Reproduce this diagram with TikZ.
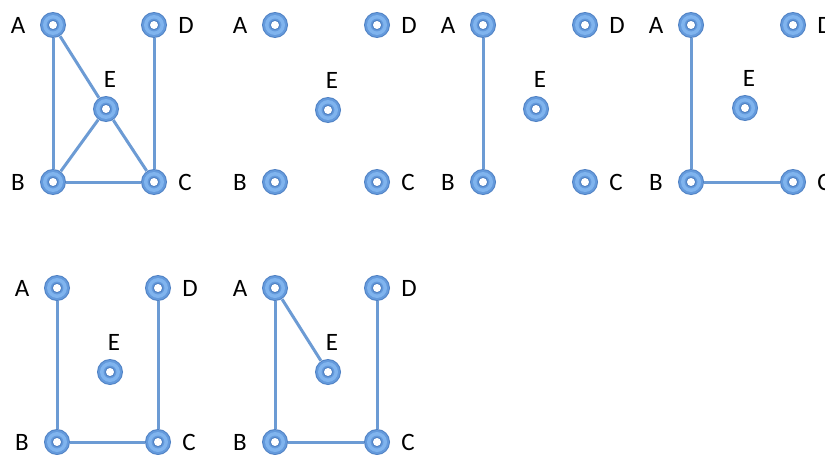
\documentclass[tikz,border=0pt]{standalone}
\usepackage{fontspec}
\setmainfont{Carlito}
\definecolor{ringdark}{RGB}{80,130,196}
\definecolor{ringmid}{RGB}{100,154,220}
\definecolor{ringlight}{RGB}{128,180,238}
\definecolor{edgeblue}{RGB}{108,155,212}
\tikzset{
  vtx/.style={circle, minimum size=26pt, inner sep=0pt, fill=ringdark,
    path picture={
      \coordinate (pc) at (path picture bounding box.center);
      \fill[ringmid] (pc) circle (12pt);
      \fill[ringlight] (pc) circle (10pt);
      \fill[ringmid] (pc) circle (6.4pt);
      \fill[ringdark] (pc) circle (5.2pt);
      \fill[white] (pc) circle (4pt);
    }},
  lab/.style={font=\fontsize{25}{27}\selectfont, inner sep=0pt},
  edge/.style={draw=edgeblue, line width=3pt}
}
\newcommand{\panel}[8]{%
  \node[vtx] (#1A) at (#2,#4) {};
  \node[vtx] (#1D) at (#3,#4) {};
  \node[vtx] (#1E) at (#5,#6) {};
  \node[vtx] (#1B) at (#2,#7) {};
  \node[vtx] (#1C) at (#3,#7) {};
  \node[lab] (#1lA) at ([xshift=-35pt]#1A.center) {A};
  \node[lab] (#1lD) at ([xshift=32pt]#1D.center) {D};
  \node[lab] (#1lE) at ([xshift=4pt,yshift=30pt]#1E.center) {E};
  \node[lab] (#1lB) at ([xshift=-35pt]#1B.center) {B};
  \node[lab] (#1lC) at ([xshift=31pt]#1C.center) {C};
  #8
}
\begin{document}
\begin{tikzpicture}[x=1pt,y=-1pt]
\useasboundingbox (0,0) rectangle (825,455);
\panel{p}{53}{154}{25}{106}{109}{182}{%
  \draw[edge] (pA) -- (pB); \draw[edge] (pA) -- (pE); \draw[edge] (pE) -- (pB);
  \draw[edge] (pE) -- (pC); \draw[edge] (pB) -- (pC); \draw[edge] (pD) -- (pC);}
\panel{q}{275}{377}{25}{328}{110}{182}{}
\panel{r}{483}{585}{25}{536}{109}{182}{\draw[edge] (rA) -- (rB);}
\panel{s}{691}{793}{25}{745}{108}{182}{\draw[edge] (sA) -- (sB); \draw[edge] (sB) -- (sC);}
\panel{t}{57}{158}{288}{110}{372}{442}{%
  \draw[edge] (tA) -- (tB); \draw[edge] (tB) -- (tC); \draw[edge] (tD) -- (tC);}
\panel{u}{275}{377}{288}{328}{372}{442}{%
  \draw[edge] (uA) -- (uB); \draw[edge] (uB) -- (uC); \draw[edge] (uD) -- (uC); \draw[edge] (uA) -- (uE);}
\end{tikzpicture}
\end{document}
